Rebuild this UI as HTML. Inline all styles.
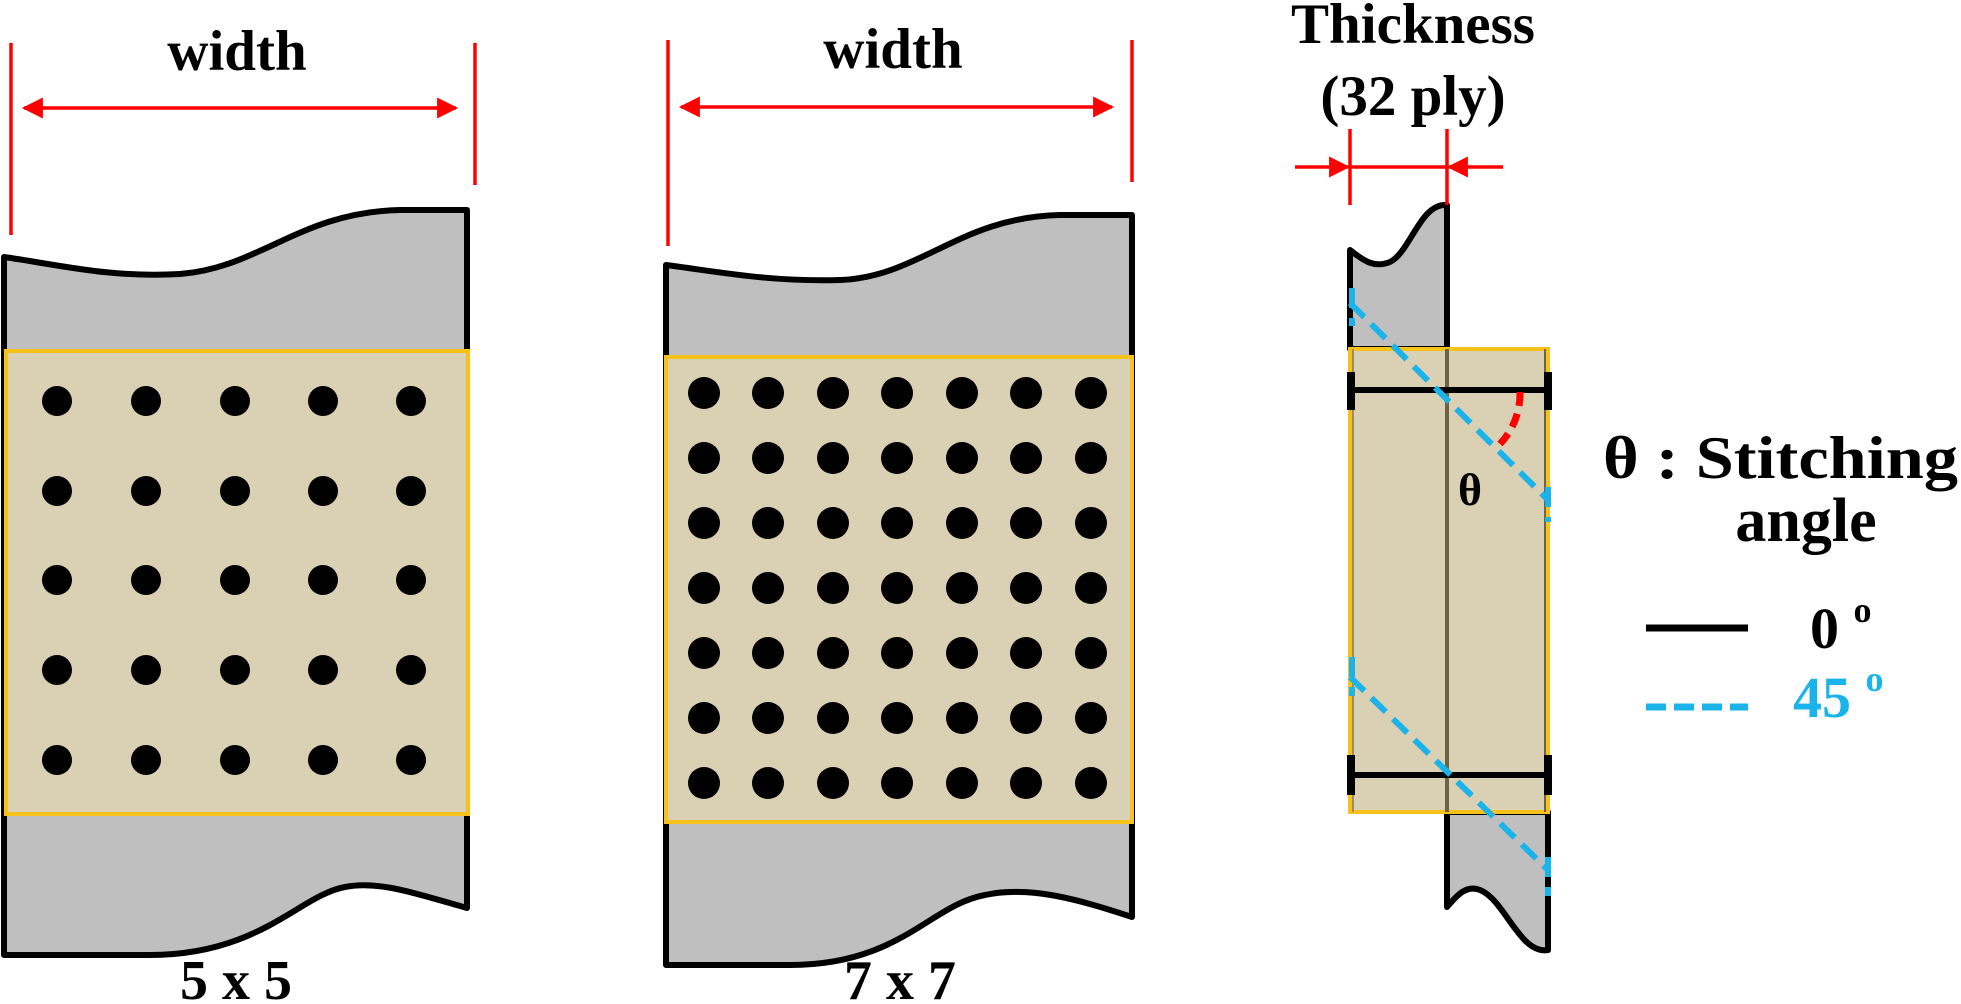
<!DOCTYPE html>
<html><head><meta charset="utf-8"><style>
html,body{margin:0;padding:0;background:#fff;}
svg{display:block;}
text{font-family:"Liberation Serif","DejaVu Serif",serif;font-weight:bold;}
</style></head><body>
<svg width="1961" height="1004" viewBox="0 0 1961 1004" xmlns="http://www.w3.org/2000/svg">
<defs>
<marker id="ah" viewBox="0 0 10 10" refX="9" refY="5" markerWidth="7" markerHeight="6" orient="auto-start-reverse" markerUnits="strokeWidth">
<path d="M0,0 L10,5 L0,10 z" fill="#ff0000"/></marker>
</defs>

<!-- Panel 1 -->
<path d="M4,257 C60,265 110,278 180,274 C260,268 300,212 400,210 L467,210 L467,360 L467,813 L467,908 C420,895 380,880 345,887 C300,895 260,955 150,955 L4,955 Z" fill="#c0bfc0" stroke="#000" stroke-width="6" stroke-linejoin="round"/>
<rect x="6" y="351" width="462" height="463" fill="#dad0b3" stroke="#f6c21a" stroke-width="4"/>
<g fill="#000">
<circle cx="57" cy="401" r="15"/><circle cx="146" cy="401" r="15"/><circle cx="235" cy="401" r="15"/><circle cx="323" cy="401" r="15"/><circle cx="411" cy="401" r="15"/>
<circle cx="57" cy="491" r="15"/><circle cx="146" cy="491" r="15"/><circle cx="235" cy="491" r="15"/><circle cx="323" cy="491" r="15"/><circle cx="411" cy="491" r="15"/>
<circle cx="57" cy="580" r="15"/><circle cx="146" cy="580" r="15"/><circle cx="235" cy="580" r="15"/><circle cx="323" cy="580" r="15"/><circle cx="411" cy="580" r="15"/>
<circle cx="57" cy="670" r="15"/><circle cx="146" cy="670" r="15"/><circle cx="235" cy="670" r="15"/><circle cx="323" cy="670" r="15"/><circle cx="411" cy="670" r="15"/>
<circle cx="57" cy="760" r="15"/><circle cx="146" cy="760" r="15"/><circle cx="235" cy="760" r="15"/><circle cx="323" cy="760" r="15"/><circle cx="411" cy="760" r="15"/>
</g>
<g stroke="#ff0000" stroke-width="3.5" fill="none">
<line x1="11" y1="43" x2="11" y2="235"/>
<line x1="475" y1="43" x2="475" y2="185"/>
<line x1="24" y1="108" x2="456" y2="108" marker-start="url(#ah)" marker-end="url(#ah)"/>
</g>
<text x="237" y="70" font-size="57" text-anchor="middle">width</text>
<text x="236" y="999" font-size="56" text-anchor="middle">5 x 5</text>

<!-- Panel 2 -->
<path d="M666,265 C720,272 770,282 840,280 C920,277 960,217 1060,215 L1132,215 L1132,917 C1080,900 1030,885 985,895 C930,905 900,965 790,965 L666,965 Z" fill="#c0bfc0" stroke="#000" stroke-width="6" stroke-linejoin="round"/>
<rect x="666" y="357" width="466" height="465" fill="#dad0b3" stroke="#f6c21a" stroke-width="4"/>
<g fill="#000" id="r7">
<circle cx="704" cy="393" r="16"/><circle cx="768" cy="393" r="16"/><circle cx="833" cy="393" r="16"/><circle cx="897" cy="393" r="16"/><circle cx="962" cy="393" r="16"/><circle cx="1026" cy="393" r="16"/><circle cx="1091" cy="393" r="16"/>
</g>
<use href="#r7" y="65"/><use href="#r7" y="130"/><use href="#r7" y="195"/><use href="#r7" y="260"/><use href="#r7" y="325"/><use href="#r7" y="390"/>
<g stroke="#ff0000" stroke-width="3.5" fill="none">
<line x1="668" y1="40" x2="668" y2="246"/>
<line x1="1132" y1="40" x2="1132" y2="182"/>
<line x1="681" y1="107" x2="1112" y2="107" marker-start="url(#ah)" marker-end="url(#ah)"/>
</g>
<text x="893" y="68" font-size="57" text-anchor="middle">width</text>
<text x="900" y="999" font-size="56" text-anchor="middle">7 x 7</text>

<!-- Panel 3 -->
<path d="M1350,250 C1365,262 1375,268 1390,262 C1410,252 1420,205 1445,205 L1447,205 L1447,349 L1350,349 Z" fill="#c0bfc0" stroke="#000" stroke-width="6" stroke-linejoin="round"/>
<path d="M1447,812 L1548,812 L1548,950 C1520,955 1505,900 1480,890 C1465,884 1455,898 1447,907 Z" fill="#c0bfc0" stroke="#000" stroke-width="6" stroke-linejoin="round"/>
<rect x="1350" y="349" width="198" height="463" fill="#dad0b3" stroke="#f6c21a" stroke-width="4"/>
<line x1="1447" y1="349" x2="1447" y2="812" stroke="#6e6248" stroke-width="4"/>
<line x1="1545" y1="349" x2="1545" y2="812" stroke="#6e6248" stroke-width="2"/>
<line x1="1353" y1="349" x2="1353" y2="812" stroke="#9a8c6a" stroke-width="2"/>
<g stroke="#000" stroke-width="6">
<line x1="1352" y1="390" x2="1546" y2="390"/>
<line x1="1352" y1="775" x2="1546" y2="775"/>
</g>
<g fill="#000">
<rect x="1347" y="372" width="8" height="38"/><rect x="1544" y="372" width="8" height="38"/>
<rect x="1347" y="755" width="8" height="40"/><rect x="1544" y="755" width="8" height="40"/>
</g>
<path d="M1520,392 A73,73 0 0 1 1500,444" fill="none" stroke="#ff0000" stroke-width="7" stroke-dasharray="14,8"/>
<g stroke="#1ab3ea" stroke-width="6" fill="none" stroke-dasharray="20,10">
<line x1="1350" y1="303" x2="1548" y2="500"/>
<line x1="1350" y1="677" x2="1548" y2="870"/>
<line x1="1352" y1="288" x2="1352" y2="326"/>
<line x1="1548" y1="487" x2="1548" y2="522"/>
<line x1="1352" y1="657" x2="1352" y2="696"/>
<line x1="1548" y1="857" x2="1548" y2="896"/>
</g>
<text x="1470" y="505" font-size="46" text-anchor="middle">θ</text>
<g stroke="#ff0000" stroke-width="3.5" fill="none">
<line x1="1350" y1="129" x2="1350" y2="205"/>
<line x1="1447" y1="129" x2="1447" y2="205"/>
<line x1="1295" y1="167" x2="1348" y2="167" marker-end="url(#ah)"/>
<line x1="1350" y1="167" x2="1447" y2="167"/>
<line x1="1503" y1="167" x2="1449" y2="167" marker-end="url(#ah)"/>
</g>
<text x="1413" y="43" font-size="57" text-anchor="middle">Thickness</text>
<text x="1413" y="115" font-size="57" text-anchor="middle">(32 ply)</text>

<!-- Legend -->
<text x="1958" y="478" font-size="60" text-anchor="end" textLength="355" lengthAdjust="spacingAndGlyphs">θ : Stitching</text>
<text x="1806" y="541" font-size="62" text-anchor="middle">angle</text>
<line x1="1646" y1="628" x2="1748" y2="628" stroke="#000" stroke-width="7"/>
<text x="1810" y="648" font-size="58">0 <tspan font-size="36" dy="-26">o</tspan></text>
<line x1="1646" y1="707" x2="1748" y2="707" stroke="#1ab3ea" stroke-width="7" stroke-dasharray="20,8"/>
<text x="1793" y="717" font-size="58" fill="#1ab3ea">45 <tspan font-size="36" dy="-26">o</tspan></text>
</svg>
</body></html>
